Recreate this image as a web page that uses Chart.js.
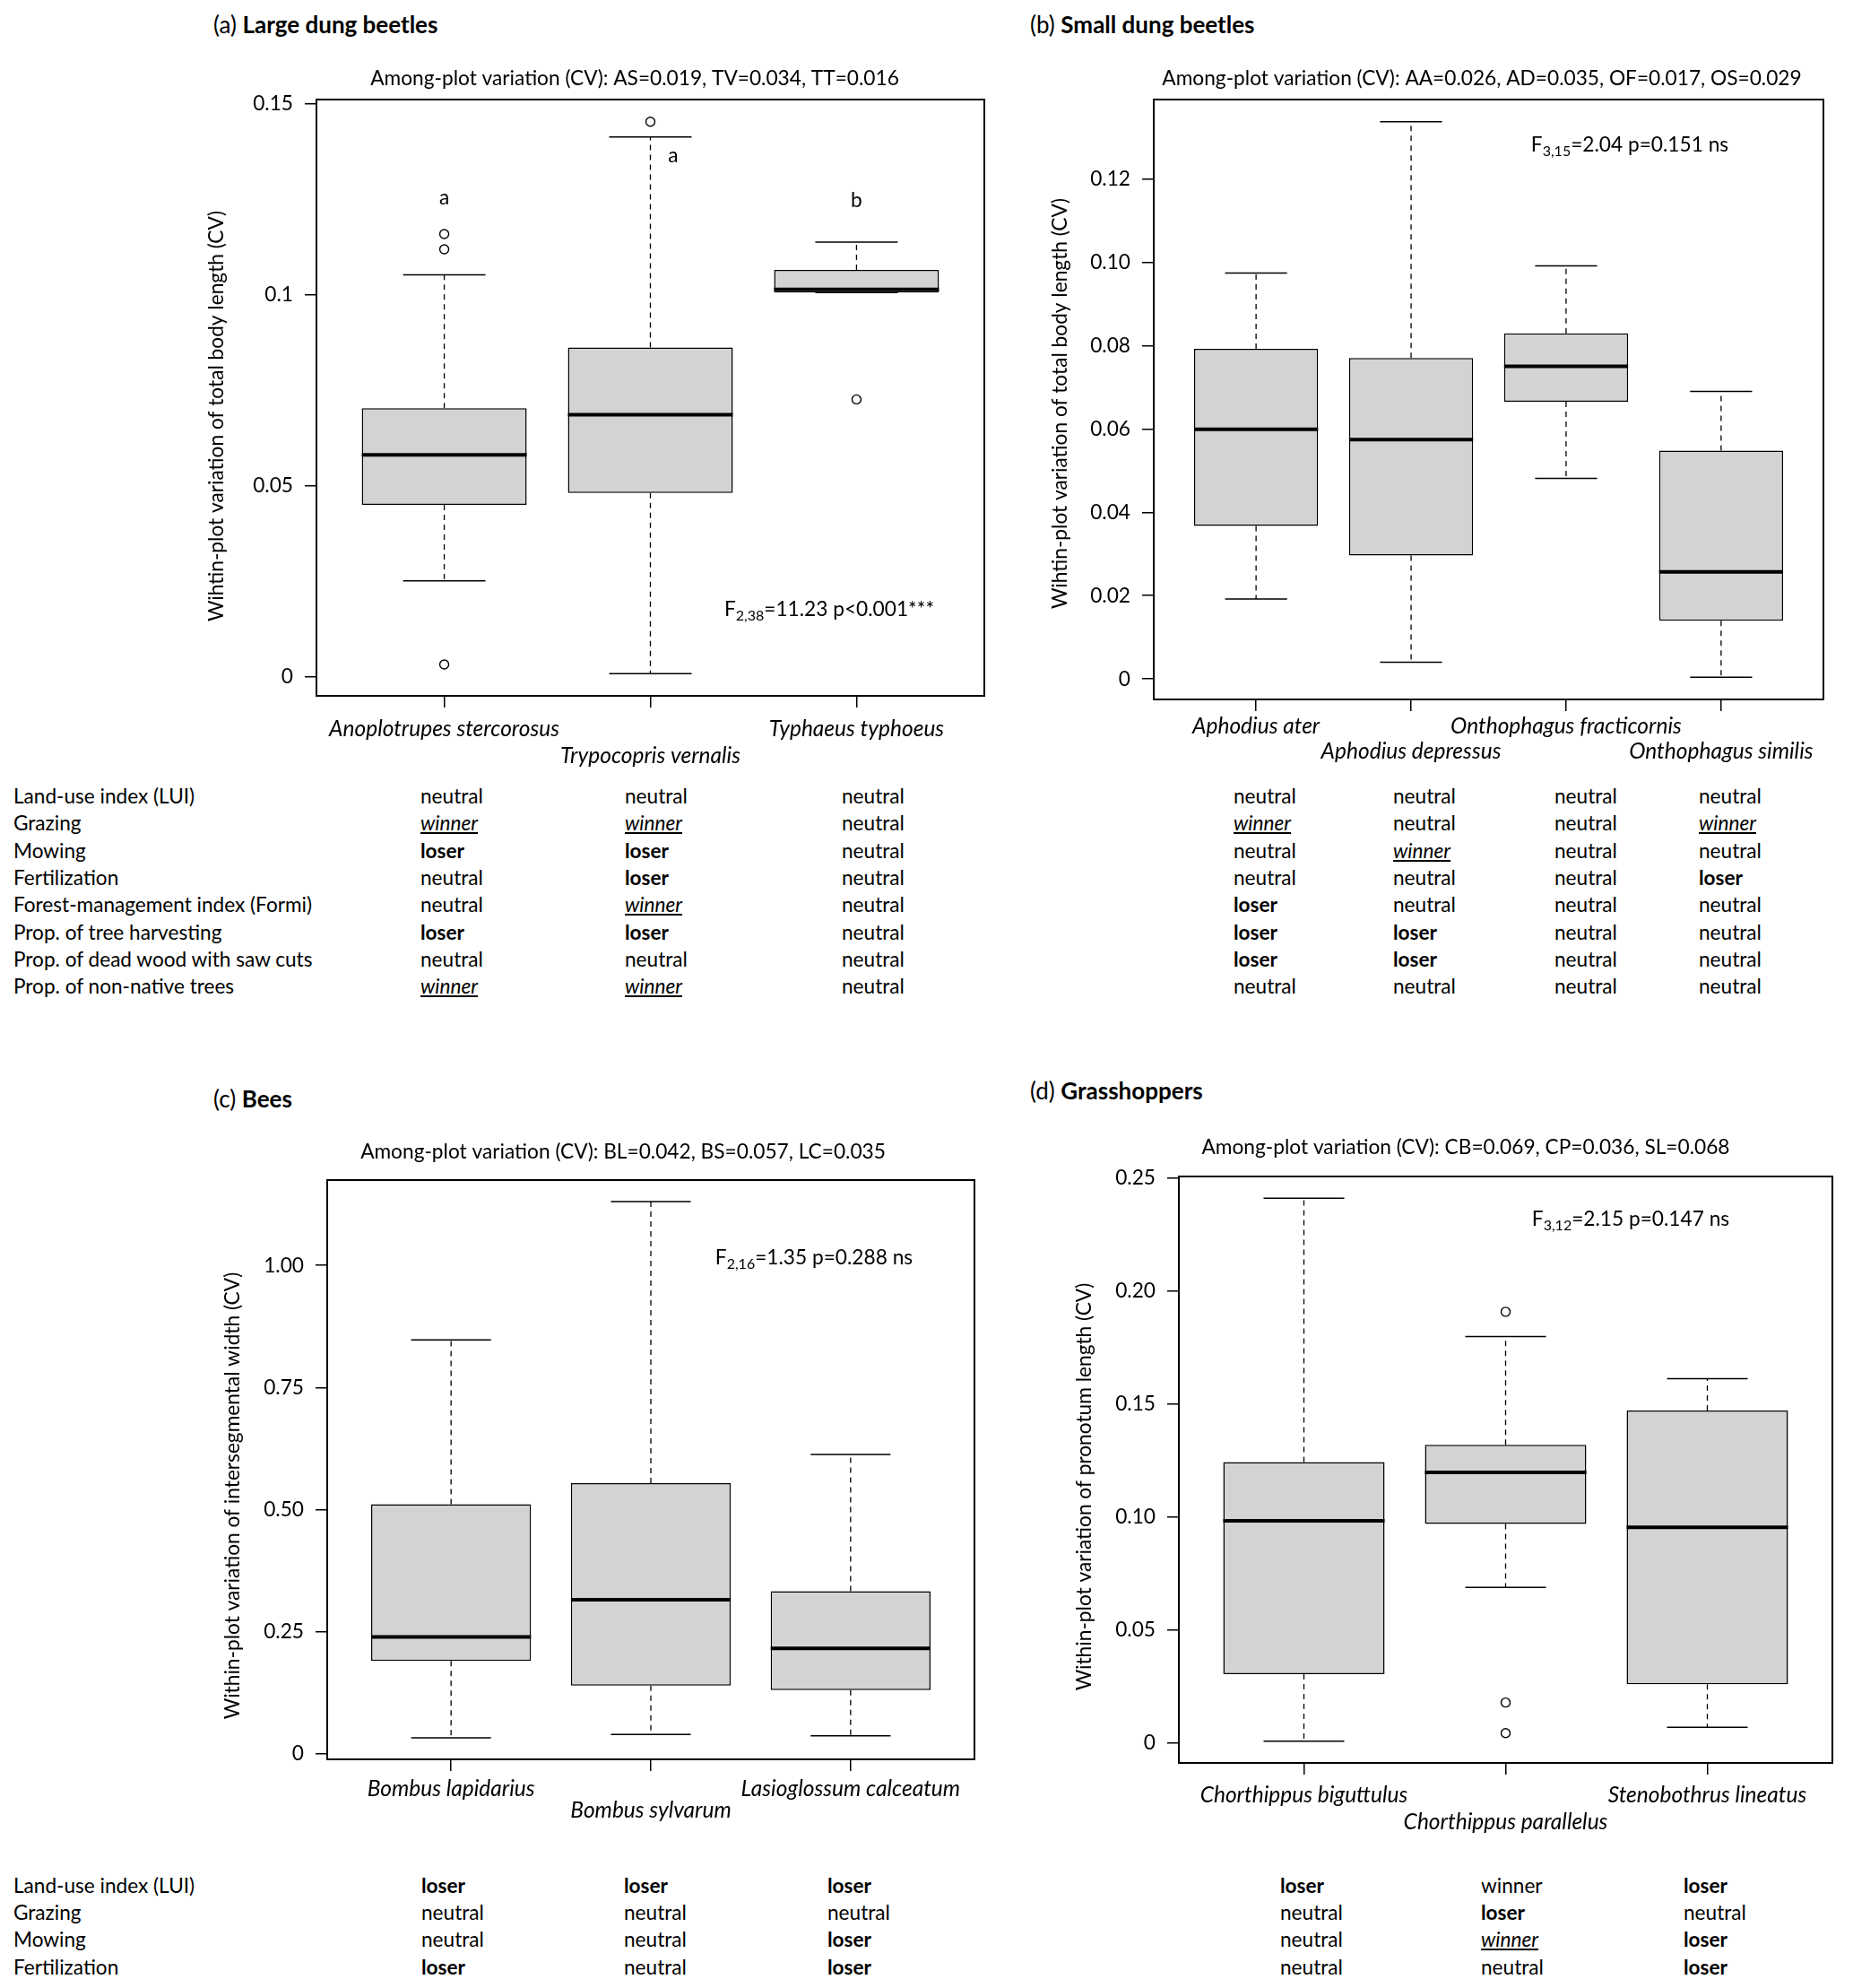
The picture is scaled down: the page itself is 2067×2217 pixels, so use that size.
<!DOCTYPE html>
<html>
<head>
<meta charset="utf-8">
<title>Within-plot variation of body size</title>
<script src="https://cdn.jsdelivr.net/npm/chart.js@4.4.1/dist/chart.umd.min.js"></script>
<style>
  html, body { margin: 0; padding: 0; background: #fff; }
  body { position: relative; width: 2067px; height: 2217px; overflow: hidden; font-family: Lato, 'Open Sans', sans-serif; color: #000; }
  canvas { position: absolute; }
  .head { position: absolute; font-size: 26px; line-height: 30px; white-space: nowrap; }
  .cell { position: absolute; font-size: 22.6px; line-height: 30px; white-space: nowrap; }
  .loser { font-weight: bold; }
  .winner { font-style: italic; text-decoration: underline; }
</style>
</head>
<body>
<div class="head" style="left:238px; top:12px">(a) <b>Large dung beetles</b></div>
<div class="head" style="left:1149px; top:12px">(b) <b>Small dung beetles</b></div>
<div class="head" style="left:238px; top:1210px">(c) <b>Bees</b></div>
<div class="head" style="left:1149px; top:1201px">(d) <b>Grasshoppers</b></div>

<canvas id="chart-a" width="1130" height="870" style="left:0; top:0"></canvas>
<canvas id="chart-b" width="937" height="870" style="left:1130px; top:0"></canvas>
<canvas id="chart-c" width="1130" height="900" style="left:0; top:1170px"></canvas>
<canvas id="chart-d" width="937" height="900" style="left:1130px; top:1170px"></canvas>

<script>
'use strict';

//--------------------DATA

// (a) large dung beetles
let speciesA = ['Anoplotrupes stercorosus', 'Trypocopris vernalis', 'Typhaeus typhoeus'];
let lowA = [0.0252, 0.0009, 0.1007];
let q1A = [0.0451, 0.0482, 0.1007];
let medA = [0.0582, 0.0687, 0.1015];
let q3A = [0.0704, 0.0863, 0.1066];
let highA = [0.1053, 0.1414, 0.1139];
let outA = [[0.1160, 0.1120, 0.0033], [0.1454], [0.0727]];
let yTicksA = [0, 0.05, 0.1, 0.15];
let yLabelsA = ['0', '0.05', '0.1', '0.15'];
let yRangeA = [-0.0049, 0.1512];
let lettersA = ['a', 'a', 'b'];
let letterXA = [1, 2.11, 3];
let letterYA = [0.1255, 0.1365, 0.1248];

// (b) small dung beetles
let speciesB = ['Aphodius ater', 'Aphodius depressus', 'Onthophagus fracticornis', 'Onthophagus similis'];
let lowB = [0.0192, 0.0040, 0.0481, 0.0004];
let q1B = [0.0367, 0.0296, 0.0665, 0.0140];
let medB = [0.0599, 0.0574, 0.0750, 0.0257];
let q3B = [0.0792, 0.0770, 0.0829, 0.0548];
let highB = [0.0974, 0.1337, 0.0991, 0.0690];
let outB = [[], [], [], []];
let yTicksB = [0, 0.02, 0.04, 0.06, 0.08, 0.10, 0.12];
let yLabelsB = ['0', '0.02', '0.04', '0.06', '0.08', '0.10', '0.12'];
let yRangeB = [-0.0049, 0.1390];

// (c) bees
let speciesC = ['Bombus lapidarius', 'Bombus sylvarum', 'Lasioglossum calceatum'];
let lowC = [0.0319, 0.0391, 0.0360];
let q1C = [0.1895, 0.1390, 0.1298];
let medC = [0.2389, 0.3151, 0.2152];
let q3C = [0.5108, 0.5540, 0.3326];
let highC = [0.8476, 1.1308, 0.6128];
let outC = [[], [], []];
let yTicksC = [0, 0.25, 0.5, 0.75, 1.0];
let yLabelsC = ['0', '0.25', '0.50', '0.75', '1.00'];
let yRangeC = [-0.0121, 1.175];

// (d) grasshoppers
let speciesD = ['Chorthippus biguttulus', 'Chorthippus parallelus', 'Stenobothrus lineatus'];
let lowD = [0.0009, 0.0689, 0.0071];
let q1D = [0.0305, 0.0969, 0.0261];
let medD = [0.0983, 0.1197, 0.0954];
let q3D = [0.1243, 0.1319, 0.1471];
let highD = [0.2409, 0.1798, 0.1611];
let outD = [[], [0.1907, 0.0180, 0.0045], []];
let yTicksD = [0, 0.05, 0.10, 0.15, 0.20, 0.25];
let yLabelsD = ['0', '0.05', '0.10', '0.15', '0.20', '0.25'];
let yRangeD = [-0.0087, 0.2505];

// winner / loser tables: n = neutral, W = winner (significant), w = winner, L = loser
let driversTop = ['Land-use index (LUI)', 'Grazing', 'Mowing', 'Fertilization',
  'Forest-management index (Formi)', 'Prop. of tree harvesting',
  'Prop. of dead wood with saw cuts', 'Prop. of non-native trees'];
let responseA = ['nnn', 'WWn', 'LLn', 'nLn', 'nWn', 'LLn', 'nnn', 'WWn'];
let responseB = ['nnnn', 'WnnW', 'nWnn', 'nnnL', 'Lnnn', 'LLnn', 'LLnn', 'nnnn'];

let driversBottom = ['Land-use index (LUI)', 'Grazing', 'Mowing', 'Fertilization'];
let responseC = ['LLL', 'nnn', 'nnL', 'LnL'];
let responseD = ['LwL', 'nLn', 'nWL', 'nnL'];

//--------------------SETTINGS
let FONT = 'Lato';
let TEXT_SIZE = 22.7;
let SPECIES_SIZE = 24.5;
Chart.defaults.font.family = FONT;
Chart.defaults.color = '#000';

//--------------------PLUGIN: frame, y title, subtitle, F statistic, letters
let notesPlugin = {
  id: 'notes',
  afterDatasetsDraw(chart, args, opts) {
    let ctx = chart.ctx;
    let area = chart.chartArea;
    ctx.save();
    ctx.strokeStyle = '#000';
    ctx.lineWidth = 2;
    ctx.strokeRect(area.left, area.top, area.right - area.left, area.bottom - area.top);

    let big = TEXT_SIZE + 'px ' + FONT;
    let small = '16px ' + FONT;

    ctx.fillStyle = '#000';
    ctx.textBaseline = 'middle';
    ctx.font = big;
    ctx.textAlign = 'center';
    ctx.fillText(opts.subtitle, opts.subX, opts.subY);

    // rotated y axis title
    ctx.save();
    ctx.translate(opts.yTitleX, opts.yTitleY);
    ctx.rotate(-Math.PI / 2);
    ctx.fillText(opts.yTitle, 0, 0);
    ctx.restore();

    // F with subscripted degrees of freedom
    let w1 = ctx.measureText('F').width;
    let w3 = ctx.measureText(opts.statRest).width;
    ctx.font = small;
    let w2 = ctx.measureText(opts.statSub).width;
    let x = opts.statX - (w1 + w2 + w3) / 2;
    ctx.textAlign = 'left';
    ctx.font = big;
    ctx.fillText('F', x, opts.statY);
    ctx.font = small;
    ctx.fillText(opts.statSub, x + w1, opts.statY + 7);
    ctx.font = big;
    ctx.fillText(opts.statRest, x + w1 + w2, opts.statY);

    if (opts.letters) {
      ctx.textAlign = 'center';
      for (let i = 0; i < opts.letters.length; i++) {
        ctx.fillText(opts.letters[i],
          chart.scales.x.getPixelForValue(opts.letterX[i]),
          chart.scales.y.getPixelForValue(opts.letterY[i]));
      }
    }
    ctx.restore();
  }
};

//--------------------CHART BUILDER
function buildChart(canvasId, p) {
  let n = p.species.length;
  let boxes = [];
  let whiskers = [];
  let caps = [];
  let medians = [];
  let outliers = [];

  for (let i = 0; i < n; i++) {
    let x = i + 1;
    boxes.push({x: x, y: [p.q1[i], p.q3[i]]});
    whiskers.push({x: x, y: p.q3[i]}, {x: x, y: p.high[i]}, {x: x, y: null},
      {x: x, y: p.q1[i]}, {x: x, y: p.low[i]}, {x: x, y: null});
    caps.push({x: x - 0.2, y: p.high[i]}, {x: x + 0.2, y: p.high[i]}, {x: x, y: null},
      {x: x - 0.2, y: p.low[i]}, {x: x + 0.2, y: p.low[i]}, {x: x, y: null});
    medians.push({x: x - 0.4, y: p.med[i]}, {x: x + 0.4, y: p.med[i]}, {x: x, y: null});
    for (let j = 0; j < p.out[i].length; j++) {
      outliers.push({x: x, y: p.out[i][j]});
    }
  }

  let pad = 0.5 + 0.04 * n;
  let canvas = document.getElementById(canvasId);

  return new Chart(canvas, {
    type: 'bar',
    data: {
      datasets: [
        {type: 'scatter', data: outliers, order: 0, pointStyle: 'circle', pointRadius: 5,
          pointBorderWidth: 1.4, borderColor: '#000', backgroundColor: '#fff'},
        {type: 'line', data: medians, order: 1, borderColor: '#000', borderWidth: 4,
          pointRadius: 0, spanGaps: false},
        {type: 'line', data: caps, order: 2, borderColor: '#000', borderWidth: 1.5,
          pointRadius: 0, spanGaps: false},
        {type: 'line', data: whiskers, order: 3, borderColor: '#000', borderWidth: 1.3,
          borderDash: [6, 5], pointRadius: 0, spanGaps: false},
        {type: 'bar', data: boxes, order: 4, backgroundColor: '#d3d3d3', borderColor: '#000',
          borderWidth: 1.5, borderSkipped: false, barPercentage: 0.8, categoryPercentage: 1}
      ]
    },
    options: {
      responsive: false,
      animation: false,
      events: [],
      layout: {
        padding: {
          left: p.area.left - p.yWidth,
          right: canvas.width - p.area.right,
          top: p.area.top,
          bottom: canvas.height - p.area.bottom - 90
        }
      },
      plugins: {
        legend: {display: false},
        tooltip: {enabled: false},
        notes: p.notes
      },
      scales: {
        x: {
          type: 'linear',
          min: 1 - pad,
          max: n + pad,
          offset: false,
          afterBuildTicks: (s) => { s.ticks = p.species.map((name, i) => ({value: i + 1})); },
          afterFit: (s) => { s.height = 90; },
          grid: {display: true, drawOnChartArea: false, drawTicks: true, tickLength: 13,
            color: '#000', lineWidth: 1.5, offset: false},
          border: {display: false},
          ticks: {
            autoSkip: false, maxRotation: 0, minRotation: 0, padding: p.xPad,
            font: {size: SPECIES_SIZE, style: 'italic', lineHeight: p.xStep / SPECIES_SIZE},
            callback: (v, i) => (i % 2 ? ['', p.species[i]] : p.species[i])
          }
        },
        y: {
          type: 'linear',
          min: p.yRange[0],
          max: p.yRange[1],
          afterBuildTicks: (s) => { s.ticks = p.yTicks.map(v => ({value: v})); },
          afterFit: (s) => { s.width = p.yWidth; },
          grid: {display: true, drawOnChartArea: false, drawTicks: true, tickLength: 13,
            color: '#000', lineWidth: 1.5},
          border: {display: false},
          ticks: {
            padding: 13,
            font: {size: TEXT_SIZE},
            callback: (v, i) => p.yLabels[i]
          }
        }
      }
    },
    plugins: [notesPlugin]
  });
}

//--------------------CHARTS
buildChart('chart-a', {
  species: speciesA, low: lowA, q1: q1A, med: medA, q3: q3A, high: highA, out: outA,
  yTicks: yTicksA, yLabels: yLabelsA, yRange: yRangeA,
  area: {left: 353, right: 1098, top: 111, bottom: 776},
  yWidth: 124, xPad: 9, xStep: 30,
  notes: {
    yTitle: 'Wihtin-plot variation of total body length (CV)', yTitleX: 242, yTitleY: 464,
    subtitle: 'Among-plot variation (CV): AS=0.019, TV=0.034, TT=0.016', subX: 708, subY: 88,
    statSub: '2,38', statRest: '=11.23 p<0.001***', statX: 925, statY: 680,
    letters: lettersA, letterX: letterXA, letterY: letterYA
  }
});

buildChart('chart-b', {
  species: speciesB, low: lowB, q1: q1B, med: medB, q3: q3B, high: highB, out: outB,
  yTicks: yTicksB, yLabels: yLabelsB, yRange: yRangeB,
  area: {left: 157, right: 904, top: 111, bottom: 780},
  yWidth: 117, xPad: 3, xStep: 28,
  notes: {
    yTitle: 'Wihtin-plot variation of total body length (CV)', yTitleX: 53, yTitleY: 450,
    subtitle: 'Among-plot variation (CV): AA=0.026, AD=0.035, OF=0.017, OS=0.029', subX: 523, subY: 88,
    statSub: '3,15', statRest: '=2.04 p=0.151 ns', statX: 688, statY: 162
  }
});

buildChart('chart-c', {
  species: speciesC, low: lowC, q1: q1C, med: medC, q3: q3C, high: highC, out: outC,
  yTicks: yTicksC, yLabels: yLabelsC, yRange: yRangeC,
  area: {left: 365, right: 1087, top: 146, bottom: 792},
  yWidth: 118, xPad: 8, xStep: 24,
  notes: {
    yTitle: 'Within-plot variation of intersegmental width (CV)', yTitleX: 260, yTitleY: 498,
    subtitle: 'Among-plot variation (CV): BL=0.042, BS=0.057, LC=0.035', subX: 695, subY: 115,
    statSub: '2,16', statRest: '=1.35 p=0.288 ns', statX: 908, statY: 233
  }
});

buildChart('chart-d', {
  species: speciesD, low: lowD, q1: q1D, med: medD, q3: q3D, high: highD, out: outD,
  yTicks: yTicksD, yLabels: yLabelsD, yRange: yRangeD,
  area: {left: 185, right: 914, top: 142, bottom: 796},
  yWidth: 118, xPad: 8, xStep: 30,
  notes: {
    yTitle: 'Within-plot variation of pronotum length (CV)', yTitleX: 80, yTitleY: 488,
    subtitle: 'Among-plot variation (CV): CB=0.069, CP=0.036, SL=0.068', subX: 505, subY: 110,
    statSub: '3,12', statRest: '=2.15 p=0.147 ns', statX: 689, statY: 190
  }
});

//--------------------TABLES
let codes = {
  n: ['neutral', ''],
  W: ['winner', 'winner'],
  w: ['winner', ''],
  L: ['loser', 'loser']
};

function addCell(text, cls, x, yMid) {
  let div = document.createElement('div');
  div.className = 'cell' + (cls ? ' ' + cls : '');
  div.textContent = text;
  div.style.left = x + 'px';
  div.style.top = (yMid - 15) + 'px';
  document.body.appendChild(div);
}

function addTable(drivers, blocks, firstRow, rowStep) {
  for (let r = 0; r < drivers.length; r++) {
    let y = firstRow + r * rowStep;
    addCell(drivers[r], '', 15, y);
    blocks.forEach(b => {
      for (let c = 0; c < b.cols.length; c++) {
        let code = codes[b.rows[r][c]];
        addCell(code[0], code[1], b.cols[c], y);
      }
    });
  }
}

addTable(driversTop, [
  {rows: responseA, cols: [469, 697, 939]},
  {rows: responseB, cols: [1376, 1554, 1734, 1895]}
], 888, 30.3);

addTable(driversBottom, [
  {rows: responseC, cols: [470, 696, 923]},
  {rows: responseD, cols: [1428, 1652, 1878]}
], 2103, 30.2);
</script>
</body>
</html>
